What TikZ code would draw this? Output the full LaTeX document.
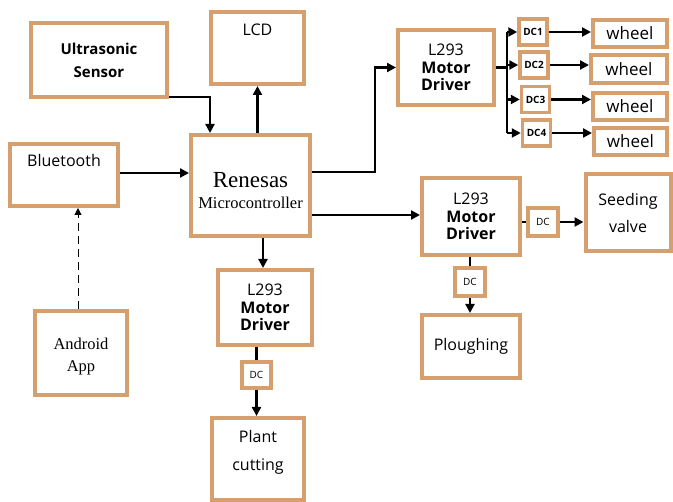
\documentclass[tikz,border=0pt]{standalone}
\usepackage{fontspec}
\usetikzlibrary{arrows.meta,calc}
\newfontfamily\sansf{Open Sans}
\newfontfamily\seriff{Liberation Serif}
\definecolor{boxorange}{RGB}{214,160,110}
\begin{document}
\begin{tikzpicture}[x=1pt,y=-1pt,
  box/.style={draw=boxorange,line width=4pt,fill=white,inner sep=0pt,align=center,font=\sansf\fontsize{16}{20}\selectfont},
  dcbox/.style={draw=boxorange,line width=3.5pt,fill=white,inner sep=0pt,minimum width=28pt,minimum height=26pt,font=\sansf\fontsize{10}{11}\selectfont},
  arr/.style={-{Triangle[length=9pt,width=9pt]},line width=2.2pt},
  ln/.style={line width=2.2pt},
  dsh/.style={-{Triangle[length=7pt,width=7pt]},line width=1pt,dash pattern=on 8pt off 5pt}]
\useasboundingbox (0,0) rectangle (673,502);
\fill[white] (0,0) rectangle (673,502);
% boxes
\node[box,minimum width=136pt,minimum height=74pt,font=\sansf\bfseries\fontsize{15}{23}\selectfont] (US) at (99,60) {Ultrasonic\\Sensor};
\node[box,minimum width=93pt,minimum height=72pt,label={[anchor=north,yshift=-10pt,font=\sansf\fontsize{16}{20}\selectfont]north:LCD}] (LCD) at (257.5,48) {};
\node[box,minimum width=108pt,minimum height=62pt,label={[anchor=north,yshift=-9pt,font=\sansf\fontsize{16}{20}\selectfont]north:Bluetooth}] (BT) at (64,175) {};
\node[box,minimum width=119pt,minimum height=101pt] (REN) at (250.5,185.5) {};
\node[font=\seriff\fontsize{23}{26}\selectfont,inner sep=0pt] (RENt) at (250.5,180) {Renesas};
\node[font=\seriff\fontsize{16.5}{18}\selectfont,inner sep=0pt] (RENs) at (250.5,203) {Microcontroller};
\node[box,minimum width=92pt,minimum height=84pt] (AND) at (81,353) {};
\node[font=\seriff\fontsize{16.5}{22}\selectfont,align=center,inner sep=0pt] (ANDt) at (81,357) {Android\\App};
\node[box,minimum width=96pt,minimum height=75pt] (MD1) at (446,67.5) {L293\\[-2pt]{\bfseries Motor}\\[-3pt]{\bfseries Driver}};
\node[dcbox] (DC1) at (533,32) {\bfseries DC1};
\node[dcbox] (DC2) at (534,65) {\bfseries DC2};
\node[dcbox] (DC3) at (535.5,99.5) {\bfseries DC3};
\node[dcbox] (DC4) at (536.5,133) {\bfseries DC4};
\node[box,minimum width=74pt,minimum height=27pt,font=\sansf\fontsize{17}{20}\selectfont] (W1) at (630,33.5) {wheel};
\node[box,minimum width=76pt,minimum height=28pt,font=\sansf\fontsize{17}{20}\selectfont] (W2) at (629,69) {wheel};
\node[box,minimum width=74pt,minimum height=27pt,font=\sansf\fontsize{17}{20}\selectfont] (W3) at (630,106.5) {wheel};
\node[box,minimum width=73pt,minimum height=27pt,font=\sansf\fontsize{17}{20}\selectfont] (W4) at (630.5,141.5) {wheel};
\node[box,minimum width=98pt,minimum height=77pt] (MD2) at (471,216.5) {L293\\[-2pt]{\bfseries Motor}\\[-3pt]{\bfseries Driver}};
\node[dcbox,minimum width=30pt,minimum height=28pt] (DCS) at (543,222) {DC};
\node[box,minimum width=85pt,minimum height=77pt,font=\sansf\fontsize{16}{27}\selectfont] (SEED) at (628,213) {Seeding\\valve};
\node[dcbox,minimum width=30pt,minimum height=28pt] (DCP) at (470,282) {DC};
\node[box,minimum width=98pt,minimum height=63pt] (PL) at (471,346.5) {Ploughing};
\node[box,minimum width=94pt,minimum height=75pt] (MD3) at (265,307.5) {L293\\[-2pt]{\bfseries Motor}\\[-3pt]{\bfseries Driver}};
\node[dcbox,minimum width=29pt,minimum height=26pt] (DCC) at (256.5,375) {DC};
\node[box,minimum width=92pt,minimum height=82pt] (PC) at (258,459) {};
\node[font=\sansf\fontsize{16}{28}\selectfont,align=center,inner sep=0pt] (PCt) at (258,452) {Plant\\cutting};
% connectors
\draw[arr] ([yshift=2pt]US.south east) -| ([xshift=21pt]REN.north west);
\draw[arr] (REN.north -| LCD.south) -- (LCD.south);
\draw[arr] ([yshift=2pt]BT.east) -- ([yshift=2pt]BT.east -| REN.west);
\draw[dsh] (AND.north -| 78,0) -- (BT.south -| 78,0);
\draw[arr] ([yshift=13.5pt]REN.east) -- ++(63,0) |- (MD1.west);
\draw[ln] (MD1.east) -- ++(11,0) coordinate (BR);
\draw[ln] (BR |- DC1.west) -- (BR |- DC4.west);
\draw[arr] (BR |- DC1.west) -- (DC1.west);
\draw[arr] (BR |- DC2.west) -- (DC2.west);
\draw[arr] (BR |- DC3.west) -- (DC3.west);
\draw[arr] (BR |- DC4.west) -- (DC4.west);
\draw[arr] (DC1.east) -- (DC1.east -| W1.west);
\draw[arr] (DC2.east) -- (DC2.east -| W2.west);
\draw[arr] (DC3.east) -- (DC3.east -| W3.west);
\draw[arr] (DC4.east) -- (DC4.east -| W4.west);
\draw[arr] ([yshift=-29.5pt]REN.east) -- ([yshift=-29.5pt]REN.east -| MD2.west);
\draw[ln] (DCS.west -| MD2.east) -- (DCS.west);
\draw[arr] (DCS.east) -- (DCS.east -| SEED.west);
\draw[ln] (MD2.south -| DCP.north) -- (DCP.north);
\draw[arr] (DCP.south) -- (DCP.south |- PL.north);
\draw[arr] ([xshift=-2pt]MD3.north |- REN.south) -- ([xshift=-2pt]MD3.north);
\draw[ln] (DCC.north |- MD3.south) -- (DCC.north);
\draw[arr] (DCC.south) -- (DCC.south |- PC.north);
\end{tikzpicture}
\end{document}
